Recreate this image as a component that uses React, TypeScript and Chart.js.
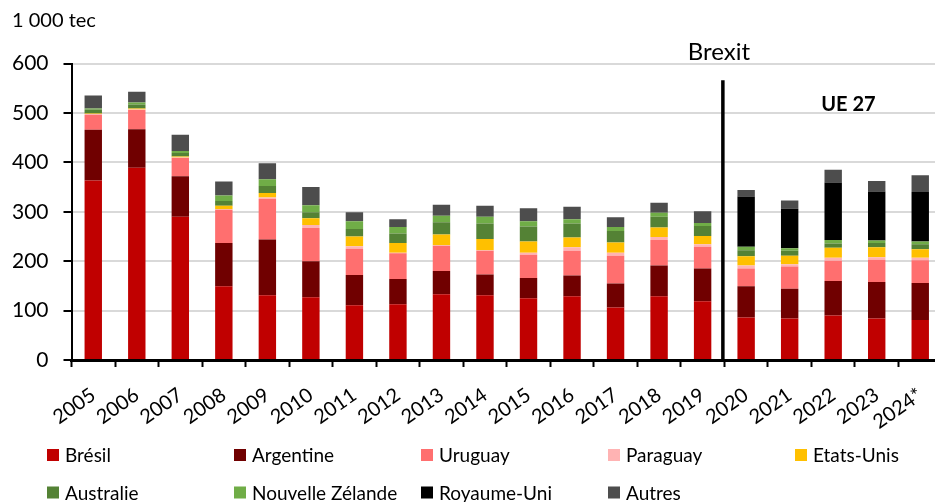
import React, { useEffect, useRef } from "react";
import { Chart, registerables } from "chart.js";

Chart.register(...registerables);

const categories = ["2005","2006","2007","2008","2009","2010","2011","2012","2013","2014","2015","2016","2017","2018","2019","2020","2021","2022","2023","2024*"];
const yTicks = [0, 100, 200, 300, 400, 500, 600];

const bresil = [363, 389, 290, 149, 131, 127, 111, 113, 133, 131, 125, 129, 106, 129, 119, 86, 84, 90, 84, 81];
const argentine = [103, 78, 82, 88, 113, 73, 61, 51, 47, 42, 41, 42, 49, 62, 66, 63, 60, 70, 74, 75];
const uruguay = [30, 39, 37, 67, 82, 67, 53, 52, 51, 48, 47, 50, 56, 52, 44, 36, 45, 41, 45, 46];
const paraguay = [2, 1, 1, 1, 3, 6, 5, 1, 1, 1, 4, 7, 6, 6, 5, 6, 5, 6, 5, 5];
const etatsUnis = [1, 2, 2, 7, 9, 14, 20, 20, 22, 23, 23, 20, 21, 19, 17, 19, 17, 20, 20, 17];
const australie = [8, 8, 7, 10, 14, 12, 15, 19, 25, 31, 30, 28, 23, 22, 20, 12, 10, 9, 9, 10];
const nouvelleZelande = [2, 4, 4, 11, 14, 14, 16, 13, 13, 14, 11, 9, 8, 8, 6, 7, 5, 7, 5, 6];
const royaumeUni = [null, null, null, null, null, null, null, null, null, null, null, null, null, null, null, 102, 80, 116, 99, 100];
const autres = [26, 22, 33, 28, 32, 37, 18, 16, 22, 22, 26, 25, 20, 20, 24, 13, 17, 26, 21, 34];

const seriesLabels = ["Brésil", "Argentine", "Uruguay", "Paraguay", "Etats-Unis", "Australie", "Nouvelle Zélande", "Royaume-Uni", "Autres"];
const seriesColors = ["#C00000", "#700000", "#FF6F6F", "#FFB3B3", "#FFC000", "#548235", "#70AD47", "#000000", "#4D4D4D"];
const seriesData = [bresil, argentine, uruguay, paraguay, etatsUnis, australie, nouvelleZelande, royaumeUni, autres];

const FONT = "Lato, 'Open Sans', sans-serif";

const annotationsPlugin = {
  id: "annotations",
  afterDraw(chart: any) {
    const ctx = chart.ctx;
    const x = chart.scales.x;
    const y = chart.scales.y;
    ctx.save();
    // y unit label
    ctx.fillStyle = "#000";
    ctx.font = `20px ${FONT}`;
    ctx.textAlign = "left";
    ctx.textBaseline = "middle";
    ctx.fillText("1 000 tec", 12, 21);
    // Brexit line
    const bx = x.getPixelForValue(14.5) - 1.5;
    ctx.strokeStyle = "#000";
    ctx.lineWidth = 3.5;
    ctx.beginPath();
    ctx.moveTo(bx, y.getPixelForValue(566));
    ctx.lineTo(bx, y.getPixelForValue(0));
    ctx.stroke();
    ctx.font = `24px ${FONT}`;
    ctx.textAlign = "center";
    ctx.textBaseline = "alphabetic";
    ctx.fillText("Brexit", bx - 4, 60);
    ctx.font = `bold 20px ${FONT}`;
    ctx.textBaseline = "middle";
    ctx.fillText("UE 27", x.getPixelForValue(17.35), y.getPixelForValue(516));
    // legend
    ctx.font = `19px ${FONT}`;
    ctx.textAlign = "left";
    chart.data.datasets.forEach((ds: any, i: number) => {
      const col = i % 5;
      const row = Math.floor(i / 5);
      const lx = 47 + col * 187;
      const ly = 455 + row * 37.5;
      ctx.fillStyle = ds.backgroundColor;
      ctx.fillRect(lx, ly - 6, 12, 12);
      ctx.fillStyle = "#000";
      ctx.fillText(ds.label, lx + 18, ly + 1);
    });
    ctx.restore();
  },
};

export default function App() {
  const ref = useRef<HTMLCanvasElement | null>(null);
  useEffect(() => {
    if (!ref.current) return;
    const chart = new Chart(ref.current, {
      type: "bar",
      data: {
        labels: categories,
        datasets: seriesLabels.map((label, i) => ({
          label,
          data: seriesData[i] as any,
          backgroundColor: seriesColors[i],
          borderWidth: 0,
          barPercentage: 0.8,
          categoryPercentage: 0.5,
        })),
      },
      options: {
        responsive: false,
        animation: false,
        devicePixelRatio: 1,
        layout: { padding: { top: 63.5, left: 0, right: 0, bottom: 0 } },
        plugins: {
          legend: { display: false },
          title: { display: false },
          tooltip: { enabled: false },
        },
        scales: {
          x: {
            stacked: true,
            afterFit(scale: any) {
              scale.height = 142;
              scale.paddingLeft = 0;
              scale.paddingRight = 0;
            },
            grid: {
              display: true,
              drawOnChartArea: false,
              drawTicks: true,
              tickLength: 7,
              tickColor: "#000",
              tickWidth: 2,
              offset: true,
            },
            border: { display: true, color: "#000", width: 3 },
            ticks: {
              autoSkip: false,
              minRotation: 35,
              maxRotation: 35,
              color: "#000",
              font: { family: FONT, size: 20 },
              padding: 16,
              labelOffset: 0,
            },
          },
          y: {
            stacked: true,
            min: 0,
            max: 600,
            afterFit(scale: any) {
              scale.width = 71.5;
            },
            afterBuildTicks(scale: any) {
              scale.ticks = yTicks.map((v) => ({ value: v }));
            },
            grid: {
              color: "#D9D9D9",
              lineWidth: 2,
              tickColor: "#000",
              tickLength: 8,
              tickWidth: 2,
            },
            border: { display: true, color: "#000", width: 2 },
            ticks: {
              color: "#000",
              font: { family: FONT, size: 21 },
              padding: 15,
            },
          },
        },
      },
      plugins: [annotationsPlugin],
    });
    return () => chart.destroy();
  }, []);
  return (
    <div style={{ position: "fixed", left: 0, top: 0, width: 935, height: 502, overflow: "hidden", background: "#fff" }}>
      <canvas ref={ref} width={942} height={502} style={{ display: "block" }} />
    </div>
  );
}
